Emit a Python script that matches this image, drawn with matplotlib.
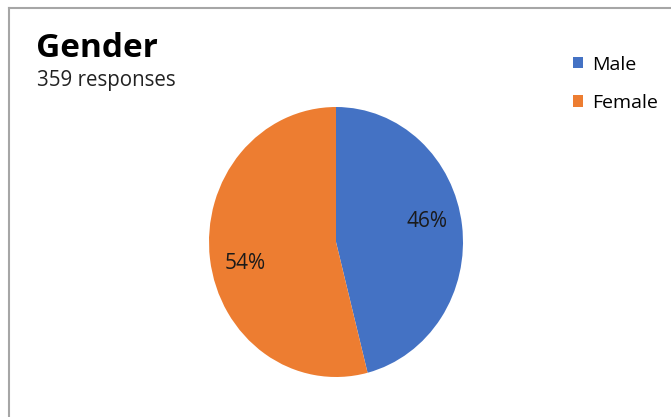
import matplotlib
matplotlib.use("Agg")
import matplotlib.pyplot as plt
from matplotlib.lines import Line2D

# Survey data
labels = ["Male", "Female"]
shares = [46, 54]
colors = ["#4472C4", "#ED7D31"]
title = "Gender"
subtitle = "359 responses"

W, H = 671, 417
DPI = 100
plt.rcParams["font.family"] = ["Open Sans", "DejaVu Sans"]

fig = plt.figure(figsize=(W / DPI, H / DPI), dpi=DPI)
fig.patch.set_facecolor("white")


def px(x, y):
    """Convert pixel coordinates (origin top-left) to figure fraction."""
    return x / W, 1 - y / H


# Frame around the chart (left and top edges)
fig.add_artist(Line2D([9 / W, 9 / W], [0, 1 - 8 / H], transform=fig.transFigure,
                      color="#a6a6a6", lw=1.5))
fig.add_artist(Line2D([9 / W, 1], [1 - 8 / H, 1 - 8 / H], transform=fig.transFigure,
                      color="#a6a6a6", lw=1.5))

# Pie axes
left, top, right, bottom = 209, 107, 463, 377
ax = fig.add_axes([left / W, 1 - bottom / H, (right - left) / W, (bottom - top) / H])
wedges, texts, autotexts = ax.pie(
    shares, colors=colors, startangle=90, counterclock=False,
    autopct=lambda p: f"{p:.0f}%", pctdistance=0.72,
    textprops=dict(fontsize=15, color="#1a1a1a"),
)
# nudge the percentage labels away from the horizontal mid-line
for t, dy in zip(autotexts, [0.06, -0.07]):
    x, y = t.get_position()
    t.set_position((x, y + dy))
ax.set_aspect("auto")
ax.set_xlim(-1, 1)
ax.set_ylim(-1, 1)
ax.axis("off")

# Title and subtitle
fig.text(*px(36, 57), title, fontsize=24, fontweight="bold", color="black", va="baseline")
fig.text(*px(37, 86), subtitle, fontsize=14.8, color="#222222", va="baseline")

# Legend
fig.legend(wedges, labels, loc="upper left", bbox_to_anchor=px(555, 38),
           frameon=False, fontsize=14, handlelength=0.55, handleheight=0.55,
           handletextpad=0.45, labelspacing=1.05)

fig.savefig("out.png", dpi=DPI)
